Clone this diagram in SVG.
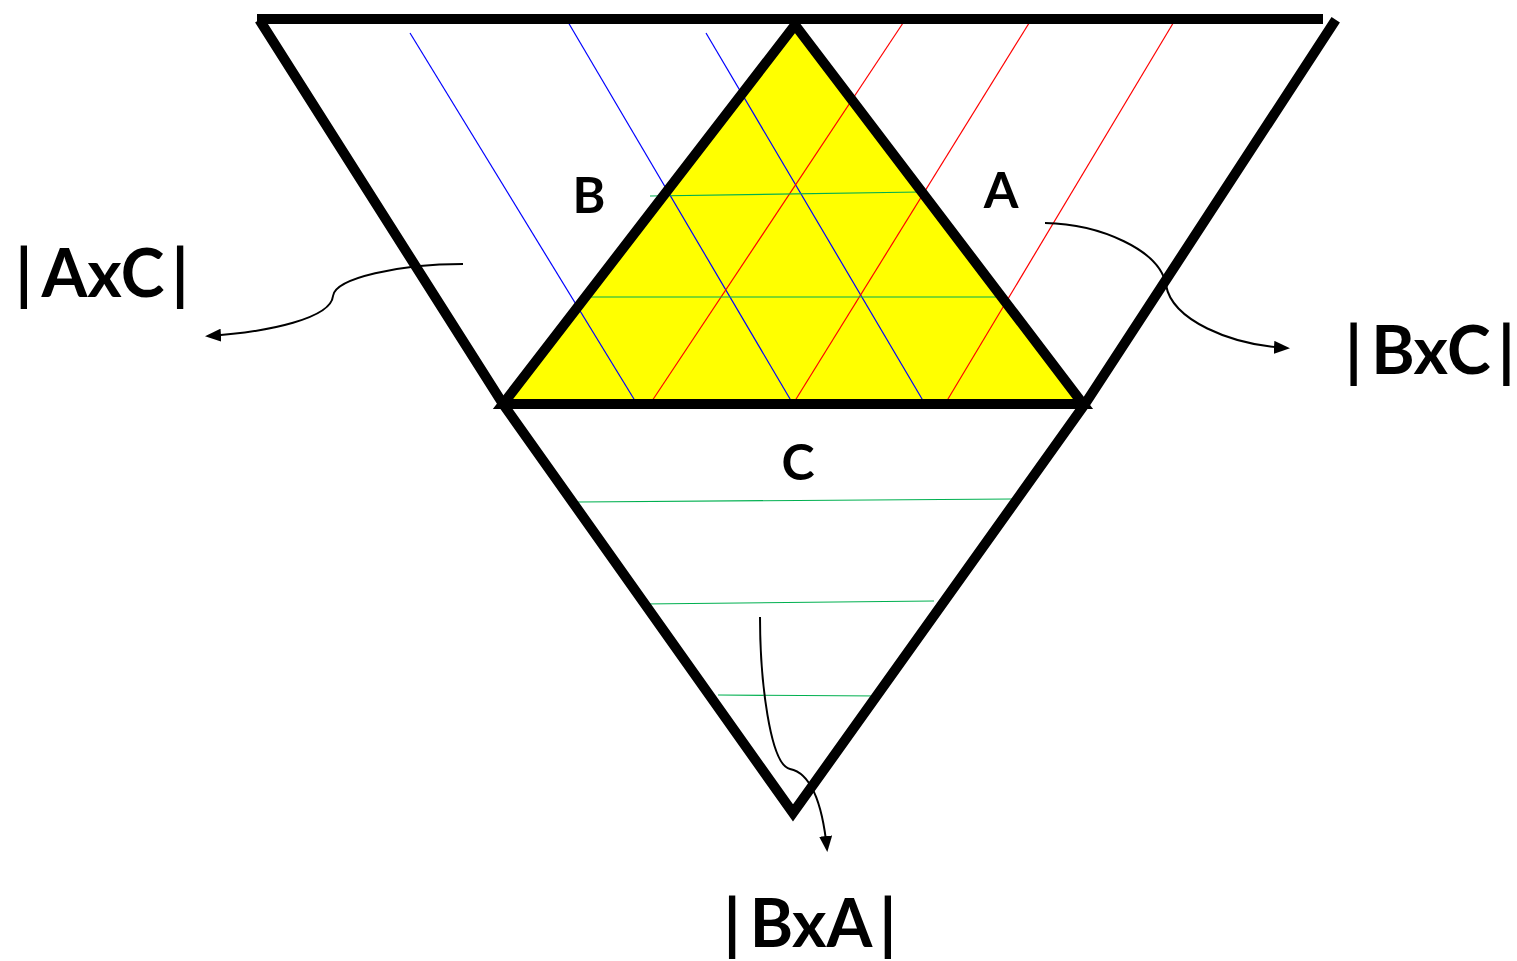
<svg xmlns="http://www.w3.org/2000/svg" width="1517" height="961" viewBox="0 0 1517 961">
<defs>
<style>
.thick{stroke:#000;stroke-width:10;fill:none;stroke-linecap:square}
.blue{stroke:#0000ff;stroke-width:1.2;fill:none}
.red{stroke:#ff0000;stroke-width:1.2;fill:none}
.green{stroke:#00b050;stroke-width:1.2;fill:none}
.conn{stroke:#000;stroke-width:2;fill:none}
.lbl{font-family:Lato,"Open Sans","Liberation Sans",sans-serif;font-weight:bold;fill:#000}
</style>
<marker id="ah" viewBox="0 0 16 13" refX="13" refY="6.5" markerWidth="16" markerHeight="13" orient="auto" markerUnits="userSpaceOnUse">
<path d="M0,0 L16,6.5 L0,13 Z" fill="#000"/>
</marker>
</defs>
<rect width="1517" height="961" fill="#fff"/>
<g id="yellow-triangle">
<polygon points="795,25 503,404 1083,404" fill="#ffff00"/>
</g>
<g id="hatching">
<line class="blue" x1="410" y1="33" x2="637" y2="404"/>
<line class="blue" x1="568" y1="22" x2="793" y2="404"/>
<line class="blue" x1="706" y1="33" x2="925" y2="404"/>
<line class="red" x1="905" y1="20" x2="650" y2="404"/>
<line class="red" x1="1031" y1="20" x2="793" y2="404"/>
<line class="red" x1="1175" y1="20" x2="945" y2="404"/>
<line class="green" x1="650" y1="196" x2="920" y2="192"/>
<line class="green" x1="580" y1="297" x2="1005" y2="297"/>
<line class="green" x1="578" y1="502" x2="1013" y2="499"/>
<line class="green" x1="643" y1="604" x2="934" y2="601"/>
<line class="green" x1="718" y1="695" x2="880" y2="696"/>
</g>
<g id="outer-shape">
<line class="thick" x1="262" y1="19" x2="1318" y2="19"/>
<polyline class="thick" points="262,24 503,404 793,813 1085,404 1333,24" stroke-linecap="butt" stroke-linejoin="miter"/>
</g>
<g id="inner-triangle">
<polygon class="thick" points="795,25 503,404 1083,404" stroke-linejoin="miter"/>
</g>
<g id="labels">
<text class="lbl" x="589" y="213" font-size="50" text-anchor="middle">B</text>
<text class="lbl" x="1001" y="208" font-size="50" text-anchor="middle">A</text>
<text class="lbl" x="798" y="480" font-size="50" text-anchor="middle">C</text>
</g>
<g id="node-AxC">
<text class="lbl" x="102" y="297" font-size="66" text-anchor="middle">|<tspan dx="9">AxC</tspan><tspan dx="7">|</tspan></text>
</g>
<g id="node-BxC">
<text class="lbl" x="1430" y="374" font-size="66" text-anchor="middle">|<tspan dx="9">BxC</tspan><tspan dx="7">|</tspan></text>
</g>
<g id="node-BxA">
<text class="lbl" x="810" y="947" font-size="66" text-anchor="middle">|<tspan dx="9">BxA</tspan><tspan dx="7">|</tspan></text>
</g>
<g id="connectors">
<path class="conn" marker-end="url(#ah)" d="M463,264 C400,264 335,278 333,296 C331,318 270,332 208,336"/>
<path class="conn" marker-end="url(#ah)" d="M1045,223 C1100,224 1160,250 1166,285 C1172,320 1230,345 1287,348"/>
<path class="conn" marker-end="url(#ah)" d="M760,617 C760,680 770,765 790,769 C810,773 822,800 827,849"/>
</g>
</svg>
